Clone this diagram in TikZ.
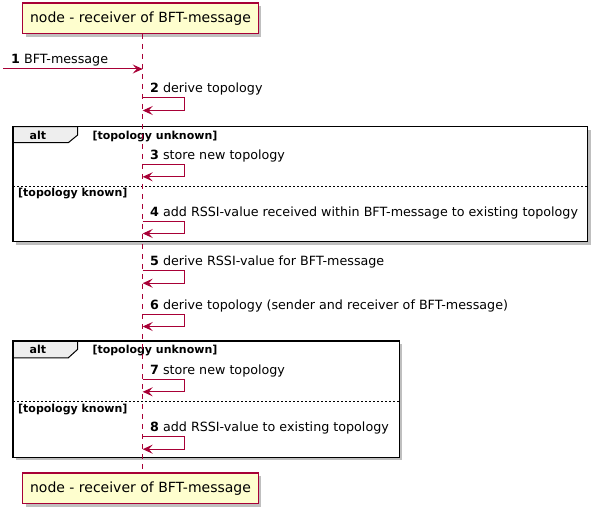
\documentclass[tikz,border=0pt]{standalone}
\usepackage{fontspec}
\setmainfont{DejaVu Sans}
\usetikzlibrary{arrows.meta,shadows}
\definecolor{puml}{HTML}{A80036}
\definecolor{pfill}{HTML}{FEFECE}
\definecolor{tabfill}{HTML}{EEEEEE}
\begin{document}
\begin{tikzpicture}[x=1pt,y=-1pt,
  msg/.style={draw=puml, line width=1pt, -{Stealth[length=10pt,width=9pt,inset=4pt]}},
  lbl/.style={anchor=base west, inner sep=0, font=\fontsize{12.7}{15}\selectfont},
  hdr/.style={anchor=base west, inner sep=0, font=\fontsize{11}{13}\selectfont\bfseries},
  part/.style={draw=puml, fill=pfill, line width=1.5pt, minimum width=235.6pt, minimum height=30.5pt, inner sep=0,
    font=\fontsize{14}{16}\selectfont, drop shadow={shadow xshift=3pt, shadow yshift=-3pt, opacity=0.25, fill=black}},
  frm/.style={draw=black, fill=white, line width=1.5pt, drop shadow={shadow xshift=3pt, shadow yshift=-3pt, opacity=0.25, fill=black}},
  frmline/.style={draw=black, line width=1.5pt},
  tabst/.style={draw=black, fill=tabfill, line width=1pt},
  divd/.style={draw=black, line width=0.8pt, dash pattern=on 2pt off 2pt},
  life/.style={draw=puml, line width=1pt, dash pattern=on 5pt off 5pt}
]
\useasboundingbox (0,0) rectangle (599,513);

% frames
\path[frm] (13,126.7) rectangle (587.5,241.7);
\path[tabst] (13,126.7) -- (77.7,126.7) -- (77.7,135) -- (68.3,142.7) -- (13,142.7) -- cycle;
\draw[frmline] (13,126.7) rectangle (587.5,241.7);
\node[hdr] (alt1) at (29.5,139.3) {alt};
\node[hdr] (g1a) at (92.3,139.3) {[topology unknown]};
\draw[divd] (13,186) -- (587.5,186);
\node[hdr] (g1b) at (18,196.5) {[topology known]};

\path[frm] (13,341) rectangle (399.3,457.3);
\path[tabst] (13,341) -- (77.7,341) -- (77.7,349.3) -- (68.3,357.8) -- (13,357.8) -- cycle;
\draw[frmline] (13,341) rectangle (399.3,457.3);
\node[hdr] (alt2) at (29.5,353.6) {alt};
\node[hdr] (g2a) at (92.3,353.6) {[topology unknown]};
\draw[divd] (13,401) -- (399.3,401);
\node[hdr] (g2b) at (18,412.3) {[topology known]};

% participants
\node[part] (ptop) at (140.5,18.5) {node - receiver of BFT-message};
\node[part] (pbot) at (140.5,488.3) {node - receiver of BFT-message};
\coordinate (ltop) at (142.7,34);
\coordinate (lbot) at (142.7,473.3);
\draw[life] (ltop) -- (lbot);

% message 1
\coordinate (src1) at (3,69);
\coordinate (dst1) at (142.7,69);
\draw[msg] (src1) -- (dst1);
\node[lbl] (t1) at (11,64) {\textbf{1} BFT-message};

% self messages
\foreach \n/\y/\t in {2/98/{derive topology},
                      3/164.3/{store new topology},
                      4/221/{add RSSI-value received within BFT-message to existing topology},
                      5/270.7/{derive RSSI-value for BFT-message},
                      6/314/{derive topology (sender and receiver of BFT-message)},
                      7/379.3/{store new topology},
                      8/436.7/{add RSSI-value to existing topology}}{
  \coordinate (s\n a) at (142.7,\y);
  \coordinate (s\n b) at (142.7,\y+12.5);
  \draw[msg] (s\n a) -- ++(41.6,0) -- ++(0,12.5) -- (s\n b);
  \node[lbl] (t\n) at (150,\y-5) {\textbf{\n} \t};
}
\end{tikzpicture}
\end{document}
